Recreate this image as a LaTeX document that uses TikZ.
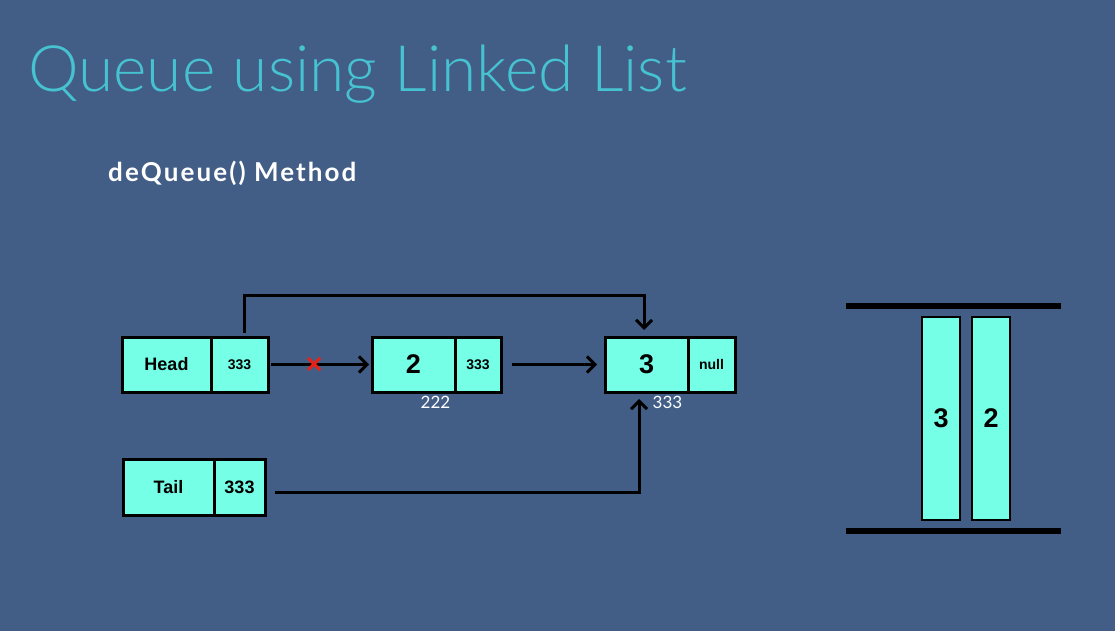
\documentclass[tikz,border=0pt]{standalone}
\usepackage{fontspec}
\setmainfont{Lato}
\newfontfamily\thinfont{Lato Light}
\newfontfamily\cellfont{Liberation Sans}
\usetikzlibrary{arrows.meta,positioning}
\definecolor{slide}{RGB}{66,94,135}
\definecolor{titlecol}{RGB}{70,194,208}
\definecolor{cellfill}{RGB}{117,255,230}
\definecolor{crossred}{RGB}{232,34,22}
\tikzset{
  cell/.style={draw=black,line width=3pt,fill=cellfill,minimum height=55pt,
    inner sep=0pt,outer sep=0pt,font=\cellfont\bfseries\fontsize{14}{16}\selectfont},
  big/.style={font=\cellfont\bfseries\fontsize{27}{30}\selectfont},
  word/.style={font=\cellfont\bfseries\fontsize{18}{20}\selectfont},
  bar/.style={draw=black,line width=1.5pt,fill=cellfill,minimum width=38pt,minimum height=203pt,
    inner sep=0pt,font=\cellfont\bfseries\fontsize{27}{30}\selectfont},
  addr/.style={text=white,anchor=north,inner sep=0pt,font=\fontsize{17}{19}\selectfont},
  link/.style={draw=black,line width=3pt,-{Straight Barb[length=8pt,width=16pt,line width=3pt]}},
}
\begin{document}
\begin{tikzpicture}[x=1pt,y=-1pt]
\fill[slide] (0,0) rectangle (1115,631);
\useasboundingbox (0,0) rectangle (1115,631);
\node[anchor=base west,inner sep=0pt,text=titlecol,font=\thinfont\fontsize{64}{68}\selectfont] (title) at (28,92) {Queue using Linked List};
\node[anchor=base west,inner sep=0pt,text=white,font=\bfseries\fontsize{26}{30}\selectfont\addfontfeatures{LetterSpace=8}] (sub) at (108,182) {deQueue() Method};

\node[cell,word,minimum width=89pt,anchor=north west] (head) at (122,337) {Head};
\node[cell,minimum width=57pt,right=0pt of head] (headnext) {333};
\node[cell,big,minimum width=83pt,anchor=north west] (n2) at (372,337) {2};
\node[cell,minimum width=46pt,right=0pt of n2] (n2next) {333};
\node[cell,big,minimum width=83pt,anchor=north west] (n3) at (605,337) {3};
\node[cell,minimum width=47pt,right=0pt of n3] (n3next) {null};
\node[cell,word,minimum width=91pt,minimum height=56pt,anchor=north west] (tail) at (123,459) {Tail};
\node[cell,word,minimum width=51pt,minimum height=56pt,right=0pt of tail] (tailnext) {333};

\node[addr] (addr2) at ([shift={(22,4)}]n2.south) {222};
\node[addr] (addr3) at ([shift={(21,4)}]n3.south) {333};

\draw[link] ([xshift=3pt]headnext.east) -- ([xshift=-3pt]n2.west);
\draw[crossred,line width=3pt] (308,358) -- (320,370) (308,370) -- (320,358);
\draw[link] ([xshift=11pt]n2next.east) -- ([xshift=-8pt]n3.west);
\draw[link] ([shift={(5,-4)}]headnext.north) |- ([shift={(-2.5,-42)}]n3.north) -- ([shift={(-2.5,-7)}]n3.north);
\draw[link] ([shift={(10,5)}]tailnext.east) -| ([shift={(-7.5,7)}]n3.south);

\draw[line width=6pt] (846,306) -- (1061,306);
\draw[line width=6pt] (846,531) -- (1061,531);
\node[bar] (q3) at (941,418.5) {3};
\node[bar] (q2) at (991,418.5) {2};
\end{tikzpicture}
\end{document}
